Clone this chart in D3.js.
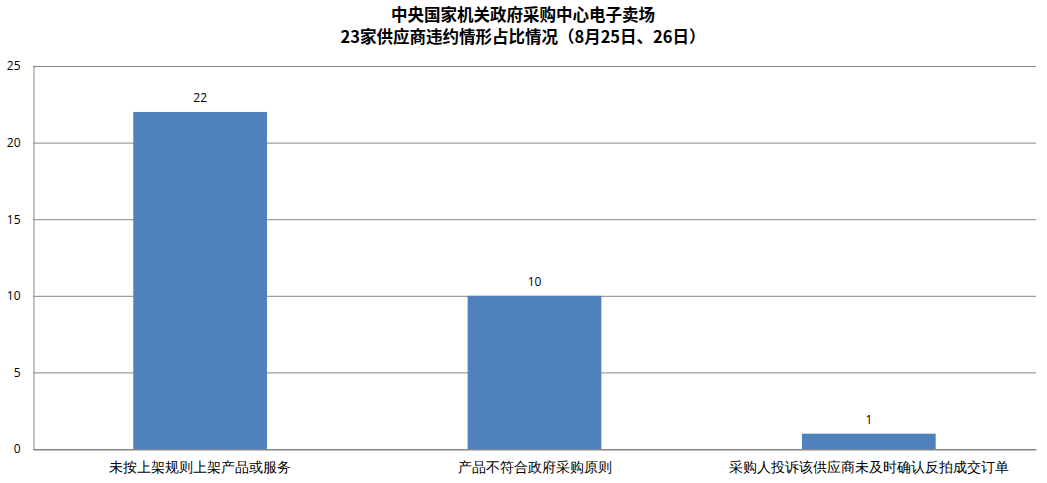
<!DOCTYPE html>
<html><head><meta charset="utf-8">
<script src="https://cdn.jsdelivr.net/npm/d3@7/dist/d3.min.js"></script>
<style>body{margin:0;background:#fff;}svg{display:block;font-family:"Noto Sans CJK SC","Microsoft YaHei",sans-serif;}</style>
</head><body>
<svg id="c" width="1047" height="483"></svg>
<script>
const titleLines = ["中央国家机关政府采购中心电子卖场", "23家供应商违约情形占比情况（8月25日、26日）"];
const categories = ["未按上架规则上架产品或服务", "产品不符合政府采购原则", "采购人投诉该供应商未及时确认反拍成交订单"];
const values = [22, 10, 1];
const yTicks = [0, 5, 10, 15, 20, 25];

const svg = d3.select("#c");
const m = {left: 33, right: 1036, top: 66, bottom: 449};
const x = d3.scaleBand().domain(categories).range([m.left, m.right]).paddingInner(0.6).paddingOuter(0.3);
const y = d3.scaleLinear().domain([0, 25]).range([m.bottom, m.top]);

// gridlines
svg.append("g").selectAll("line").data(yTicks).join("line")
  .attr("x1", m.left).attr("x2", m.right)
  .attr("y1", d => y(d) + 0.5).attr("y2", d => y(d) + 0.5)
  .attr("stroke", "#868686").attr("stroke-width", 1);

// y axis
const ya = svg.append("g").attr("transform", `translate(${m.left + 0.5},0)`)
  .call(d3.axisLeft(y).tickValues(yTicks).tickSize(0).tickPadding(13));
ya.select(".domain").attr("stroke", "#868686");
ya.selectAll("text").attr("font-family", "'Open Sans','DejaVu Sans',sans-serif").attr("font-size", 12).attr("fill", "#000");

// bars
svg.append("g").selectAll("rect").data(values).join("rect")
  .attr("x", (d, i) => x(categories[i]))
  .attr("width", x.bandwidth())
  .attr("y", d => y(d))
  .attr("height", d => y(0) - y(d))
  .attr("fill", "#4F81BD");

// value labels
svg.append("g").selectAll("text").data(values).join("text")
  .attr("x", (d, i) => x(categories[i]) + x.bandwidth() / 2)
  .attr("y", d => y(d) - 10)
  .attr("text-anchor", "middle")
  .attr("font-family", "'Open Sans','DejaVu Sans',sans-serif")
  .attr("font-size", 12).attr("fill", "#000")
  .text(d => d);

// x axis
const xa = svg.append("g").attr("transform", `translate(0,${m.bottom + 0.5})`)
  .call(d3.axisBottom(x).tickSize(0).tickPadding(13));
xa.select(".domain").attr("stroke", "#868686");
xa.selectAll("text").attr("font-size", 14).attr("fill", "#000");

// title
svg.append("g").selectAll("text").data(titleLines).join("text")
  .attr("x", 523).attr("y", (d, i) => 21 + i * 22)
  .attr("text-anchor", "middle").attr("font-weight", "bold").attr("font-size", 16.5).attr("fill", "#000")
  .text(d => d);
</script>
</body></html>
